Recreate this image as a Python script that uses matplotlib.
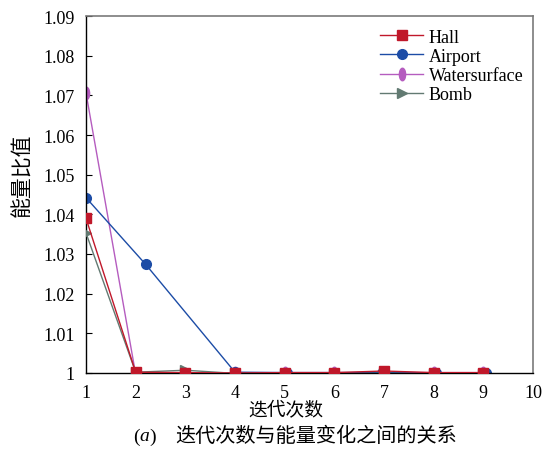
import matplotlib
matplotlib.use("Agg")
import matplotlib.pyplot as plt
import numpy as np
from matplotlib.path import Path
from matplotlib.lines import Line2D

plt.rcParams['font.family'] = ['Liberation Serif', 'Noto Sans CJK SC']

# data
hall_x = [1, 2, 3, 4, 5, 6, 7, 8, 9]
hall_y = [1.0390, 1.0002, 1.0001, 1.0000, 1.0001, 1.0001, 1.0005, 1.0001, 1.0001]
airport_x = [1, 2.2, 4, 5.05, 6, 6.95, 8.05, 9.05]
airport_y = [1.0442, 1.0274, 1.0002, 1.0001, 1.0001, 1.0001, 1.0000, 0.9999]
water_x = [1, 2, 3, 4, 5, 6, 7, 8, 9]
water_y = [1.0706, 0.9997, 0.9998, 1.0001, 1.0001, 1.0001, 1.0001, 1.0001, 1.0001]
bomb_x = [1, 2, 3, 4, 5, 6, 7, 8, 9]
bomb_y = [1.0353, 1.0002, 1.0007, 0.9999, 0.9998, 0.9998, 0.9999, 0.9998, 0.9998]

yticks = [1.00, 1.01, 1.02, 1.03, 1.04, 1.05, 1.06, 1.07, 1.08, 1.09]
ytick_labels = ["1", "1.01", "1.02", "1.03", "1.04", "1.05", "1.06", "1.07", "1.08", "1.09"]
xticks = [1, 2, 3, 4, 5, 6, 7, 8, 9, 10]

c_hall = "#c0182a"
c_air = "#1c4ca6"
c_water = "#b55cbf"
c_bomb = "#627a72"

circ = Path.unit_circle()
ellipse = Path(circ.vertices * np.array([0.5, 1.0]), circ.codes)

W, H = 547, 460
fig = plt.figure(figsize=(W / 100, H / 100), dpi=100)
ax = fig.add_axes([86 / W, 1 - 374 / H, (533 - 86) / W, (374 - 17) / H])

ax.plot(water_x, water_y, color=c_water, lw=1.0, marker=ellipse, ms=9, zorder=2)
ax.plot(bomb_x, bomb_y, color=c_bomb, lw=1.0, marker='>', ms=7, zorder=3)
ax.plot(airport_x, airport_y, color=c_air, lw=1.0, marker='o', ms=7, zorder=2)
ax.plot(hall_x, hall_y, color=c_hall, lw=1.0, marker='s', ms=7, zorder=4)

handles = [
    Line2D([], [], color=c_hall, lw=1.0, marker='s', ms=7),
    Line2D([], [], color=c_air, lw=1.0, marker='o', ms=7),
    Line2D([], [], color=c_water, lw=1.0, marker=ellipse, ms=9),
    Line2D([], [], color=c_bomb, lw=1.0, marker='>', ms=7),
]
ax.legend(handles, ["Hall", "Airport", "Watersurface", "Bomb"], loc="upper right",
          frameon=False, fontsize=13, handlelength=2.4, borderaxespad=0.0,
          labelspacing=0.12, handletextpad=0.3, bbox_to_anchor=(0.995, 0.985))

ax.set_xlim(1, 10)
ax.set_ylim(1.0, 1.09)
ax.set_xticks(xticks)
ax.set_yticks(yticks)
ax.set_yticklabels(ytick_labels)
ax.tick_params(axis='y', direction='in', length=4, labelsize=13, pad=8)
ax.tick_params(axis='x', length=0, labelsize=13, pad=8)

for s in ['left', 'bottom']:
    ax.spines[s].set_color('black')
    ax.spines[s].set_linewidth(1.0)
for s in ['top', 'right']:
    ax.spines[s].set_color('#7a7a7a')
    ax.spines[s].set_linewidth(1.2)

fig.text(286 / W, 1 - 411 / H, "迭代次数", ha='center', va='center', fontsize=13.5)
fig.text(23 / W, 1 - 175 / H, "能量比值", ha='center', va='center', rotation=90, fontsize=15)

# caption: "(a) 迭代次数与能量变化之间的关系" with italic a
cap_y = 1 - 437 / H
fig.canvas.draw()
r = fig.canvas.get_renderer()
t1 = fig.text(0, cap_y, "(", ha='left', va='center', fontsize=14)
t2 = fig.text(0, cap_y, "a", ha='left', va='center', fontsize=14, style='italic')
t3 = fig.text(0, cap_y, ")", ha='left', va='center', fontsize=14)
t4 = fig.text(0, cap_y, "迭代次数与能量变化之间的关系", ha='left', va='center', fontsize=14.5)
parts = [t1, t2, t3, t4]
gaps = [0, 0, 0, 19]
widths = [p.get_window_extent(r).width for p in parts]
total = sum(widths) + sum(gaps)
x0 = 295 - total / 2
for p, w, g in zip(parts, widths, gaps):
    x0 += g
    p.set_x(x0 / W)
    x0 += w

fig.savefig("out.png", dpi=100)
